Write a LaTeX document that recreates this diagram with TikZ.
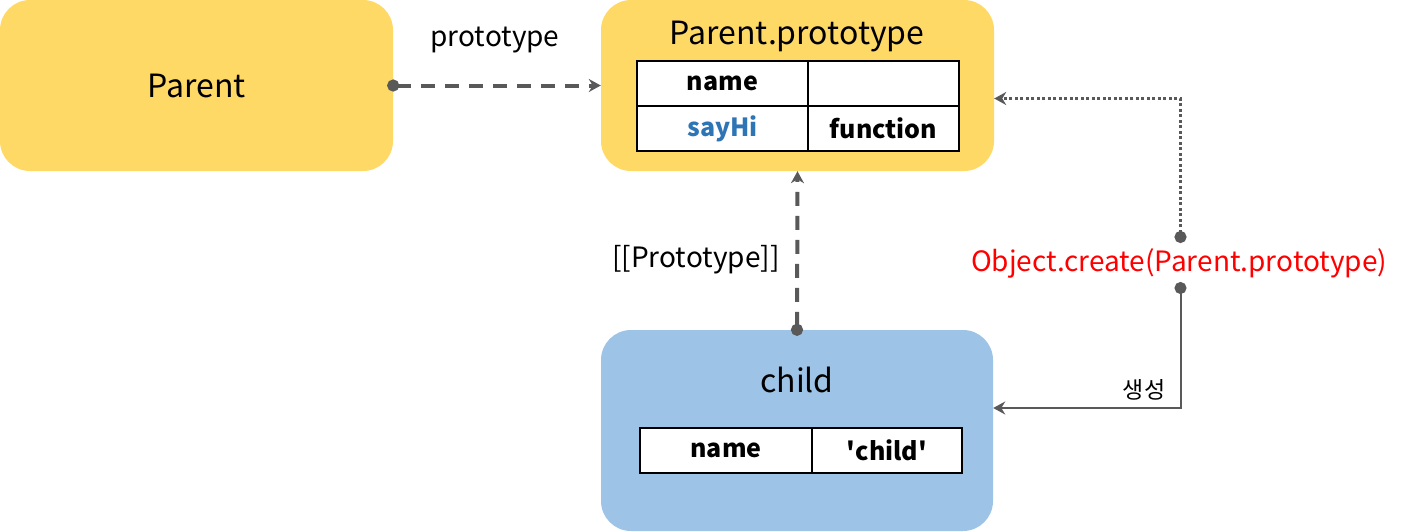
\documentclass[tikz,border=0pt]{standalone}
\usepackage{fontspec}
\setmainfont{Noto Sans CJK KR}
\usetikzlibrary{arrows.meta,positioning}
\definecolor{protoyellow}{HTML}{FFD966}
\definecolor{childblue}{HTML}{9DC3E6}
\definecolor{linkgray}{HTML}{595959}
\definecolor{keyblue}{HTML}{2E75B6}
\begin{document}
\begin{tikzpicture}
[x=1pt,y=-1pt,
 box/.style={rounded corners=30pt,inner sep=0pt},
 title/.style={font=\fontsize{32}{36}\selectfont},
 note/.style={font=\fontsize{28}{32}\selectfont},
 cell/.style=
   {draw=black,line width=2.5pt,fill=white,minimum height=45pt,
    inner sep=0pt,outer sep=0pt,font=\fontsize{25}{30}\selectfont\bfseries},
 dot/.style={{Circle[length=12pt]}-{Stealth[length=12pt,width=13pt]},shorten <=-6pt,draw=linkgray},
 link/.style={dot,line width=4pt,dash pattern=on 14pt off 10pt}]
\useasboundingbox (0,0) rectangle (1405,531);
\node [box,fill=protoyellow,minimum width=393pt,minimum height=171pt,title] (parent) at (196.5,85.5) {Parent};
\node [box,fill=protoyellow,minimum width=393pt,minimum height=171pt] (proto) at (797.5,85.5) {};
\node [box,fill=childblue,minimum width=392pt,minimum height=201pt] (child) at (797,430.5) {};
\node [title] (prototitle) at (797,37) {Parent.prototype};
\node [title] (childtitle) at (797,380) {child};
\node [cell,minimum width=171pt] (pname) at (722.5,83.5) {name};
\node [cell,minimum width=151pt,right=0pt of pname] (pvalue) {};
\node [cell,minimum width=171pt,below=0pt of pname,text=keyblue] (psay) {sayHi};
\node [cell,minimum width=151pt,right=0pt of psay] (pfunc) {function};
\node [cell,minimum width=172pt] (cname) at (726,450.5) {name};
\node [cell,minimum width=150pt,right=0pt of cname] (cvalue) {\textquotesingle child\textquotesingle};
\node [note] (protolabel) at (495,40) {prototype};
\node [note,anchor=east] (linklabel) at (783,260) {[[Prototype]]};
\node [note,text=red] (create) at (1179,263) {Object.create(Parent.prototype)};
\node [font=\fontsize{23}{26}\selectfont] (makelabel) at (1144,390) {생성};
\coordinate (createtop) at (1180.5,237);
\coordinate (createbot) at (1180.5,288);
\draw [link] (parent.east) -- (proto.west);
\draw [link] (child.north) -- (proto.south);
\draw [dot,line width=3pt,dash pattern=on 3pt off 2.5pt]
  (createtop) |- ([yshift=-13pt]proto.east);
\draw [dot,line width=2pt]
  (createbot) |- ([yshift=22.5pt]child.east);
\end{tikzpicture}
\end{document}
